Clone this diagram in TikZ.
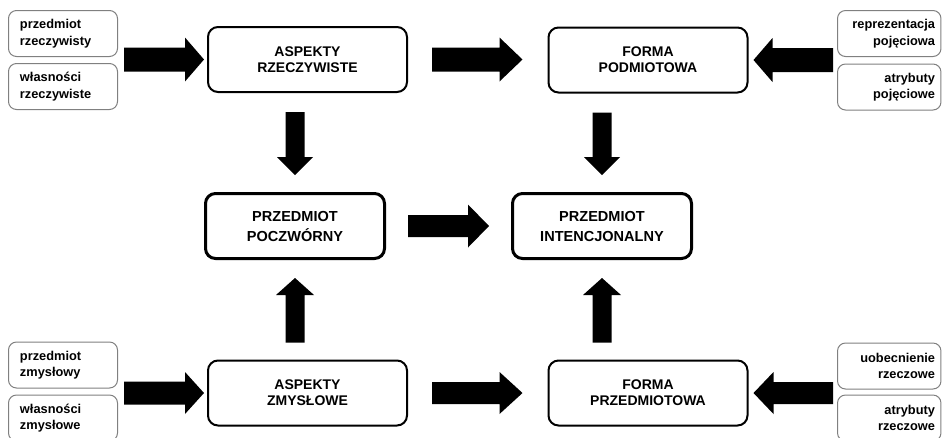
\documentclass[tikz,border=0pt]{standalone}
\usepackage{fontspec}
\setmainfont{Liberation Sans}
\usetikzlibrary{calc}
\def\pxu{0.75pt}
% horizontal block arrow: start, tip, shaft half, head half, head length (px)
\newcommand\harr[5]{%
  \fill let \p1=(#1), \p2=(#2), \n1={(\x2-\x1)/abs(\x2-\x1)} in
    (\x1,{\y1+#3*\pxu}) -- ({\x2-(\n1)*#5*\pxu},{\y1+#3*\pxu}) --
    ({\x2-(\n1)*#5*\pxu},{\y1+#4*\pxu}) -- (\x2,\y1) --
    ({\x2-(\n1)*#5*\pxu},{\y1-#4*\pxu}) -- ({\x2-(\n1)*#5*\pxu},{\y1-#3*\pxu}) --
    (\x1,{\y1-#3*\pxu}) -- cycle;}
% vertical block arrow
\newcommand\varr[5]{%
  \fill let \p1=(#1), \p2=(#2), \n1={(\y2-\y1)/abs(\y2-\y1)} in
    ({\x1-#3*\pxu},\y1) -- ({\x1-#3*\pxu},{\y2-(\n1)*#5*\pxu}) --
    ({\x1-#4*\pxu},{\y2-(\n1)*#5*\pxu}) -- (\x1,\y2) --
    ({\x1+#4*\pxu},{\y2-(\n1)*#5*\pxu}) -- ({\x1+#3*\pxu},{\y2-(\n1)*#5*\pxu}) --
    ({\x1+#3*\pxu},\y1) -- cycle;}
\definecolor{boxgray}{RGB}{128,128,128}
\tikzset{
  smallL/.style={draw=boxgray, line width=0.75pt, rounded corners=6pt,
    minimum width=81.75pt, minimum height=34.5pt, text width=64.5pt,
    inner xsep=8.625pt, inner ysep=0pt, align=left,
    font=\fontsize{9.6pt}{12.4pt}\selectfont\bfseries},
  smallR/.style={smallL, minimum width=77.6pt, text width=68.6pt,
    inner xsep=4.5pt, align=right},
  mainbox/.style={draw, line width=1.5pt, rounded corners=7.5pt,
    minimum width=149.25pt, minimum height=48.75pt, inner sep=0pt, align=center,
    font=\fontsize{10.5pt}{11.8pt}\selectfont\bfseries},
  midbox/.style={mainbox, line width=2.25pt, minimum width=134.25pt,
    minimum height=48.75pt, font=\fontsize{10.9pt}{15pt}\selectfont\bfseries},
}
\begin{document}
\begin{tikzpicture}[x=0.75pt,y=-0.75pt]
\useasboundingbox (0,0) rectangle (943,437);
% small boxes left
\node[smallL] (L1) at (63,33.5) {przedmiot\\rzeczywisty};
\node[smallL] (L2) at (63,86.5) {własności\\rzeczywiste};
\node[smallL] (L3) at (63,365) {przedmiot\\zmysłowy};
\node[smallL] (L4) at (63,418) {własności\\zmysłowe};
% small boxes right
\node[smallR] (R1) at (889.25,33.5) {reprezentacja\\pojęciowa};
\node[smallR] (R2) at (889.25,87) {atrybuty\\pojęciowe};
\node[smallR] (R3) at (889.25,366) {uobecnienie\\rzeczowe};
\node[smallR] (R4) at (889.25,418) {atrybuty\\rzeczowe};
% main boxes
\node[mainbox] (AR) at (307.5,59.5) {ASPEKTY\\RZECZYWISTE};
\node[mainbox] (FP) at (648,60) {FORMA\\PODMIOTOWA};
\node[midbox] (PP) at (295,226) {PRZEDMIOT\\POCZWÓRNY};
\node[midbox] (PI) at (602,226) {PRZEDMIOT\\INTENCJONALNY};
\node[mainbox] (AZ) at (307.5,393) {ASPEKTY\\ZMYSŁOWE};
\node[mainbox] (FPr) at (648,393) {FORMA\\PRZEDMIOTOWA};
% helper coordinates
\coordinate (tl) at (L1.east |- AR.west);
\coordinate (tr) at (R1.west |- FP.east);
\coordinate (bl) at (L3.east |- AZ.west);
\coordinate (br) at (R3.west |- FPr.east);
\coordinate (ld) at (PP.north |- AR.south);
\coordinate (rd) at (PI.north |- FP.south);
\coordinate (lu) at (PP.south |- AZ.north);
\coordinate (ru) at (PI.south |- FPr.north);
% horizontal arrows
\harr{$(tl)+(6,0)$}{$(AR.west)+(-3,0)$}{12}{22}{19}
\harr{$(AR.east)+(24,0)$}{$(FP.west)+(-25,0)$}{12}{22}{23}
\harr{$(tr)+(-4,0)$}{$(FP.east)+(5,0)$}{12}{22}{19}
\harr{$(bl)+(6,0)$}{$(AZ.west)+(-3,0)$}{11.5}{21}{19}
\harr{$(AZ.east)+(24,0)$}{$(FPr.west)+(-25,0)$}{11}{21}{23}
\harr{$(br)+(-4,0)$}{$(FPr.east)+(5,0)$}{11}{21}{20}
\harr{$(PP.east)+(22,0)$}{$(PI.west)+(-22,0)$}{11}{21.5}{21}
% vertical arrows
\varr{$(ld)+(0,19)$}{$(PP.north)+(0,-17)$}{9.5}{18}{18}
\varr{$(rd)+(0,19)$}{$(PI.north)+(0,-17)$}{9.5}{18}{18}
\varr{$(lu)+(0,-17)$}{$(PP.south)+(0,18)$}{9.5}{19}{17}
\varr{$(ru)+(0,-17)$}{$(PI.south)+(0,18)$}{9.5}{19}{17}
\end{tikzpicture}
\end{document}
